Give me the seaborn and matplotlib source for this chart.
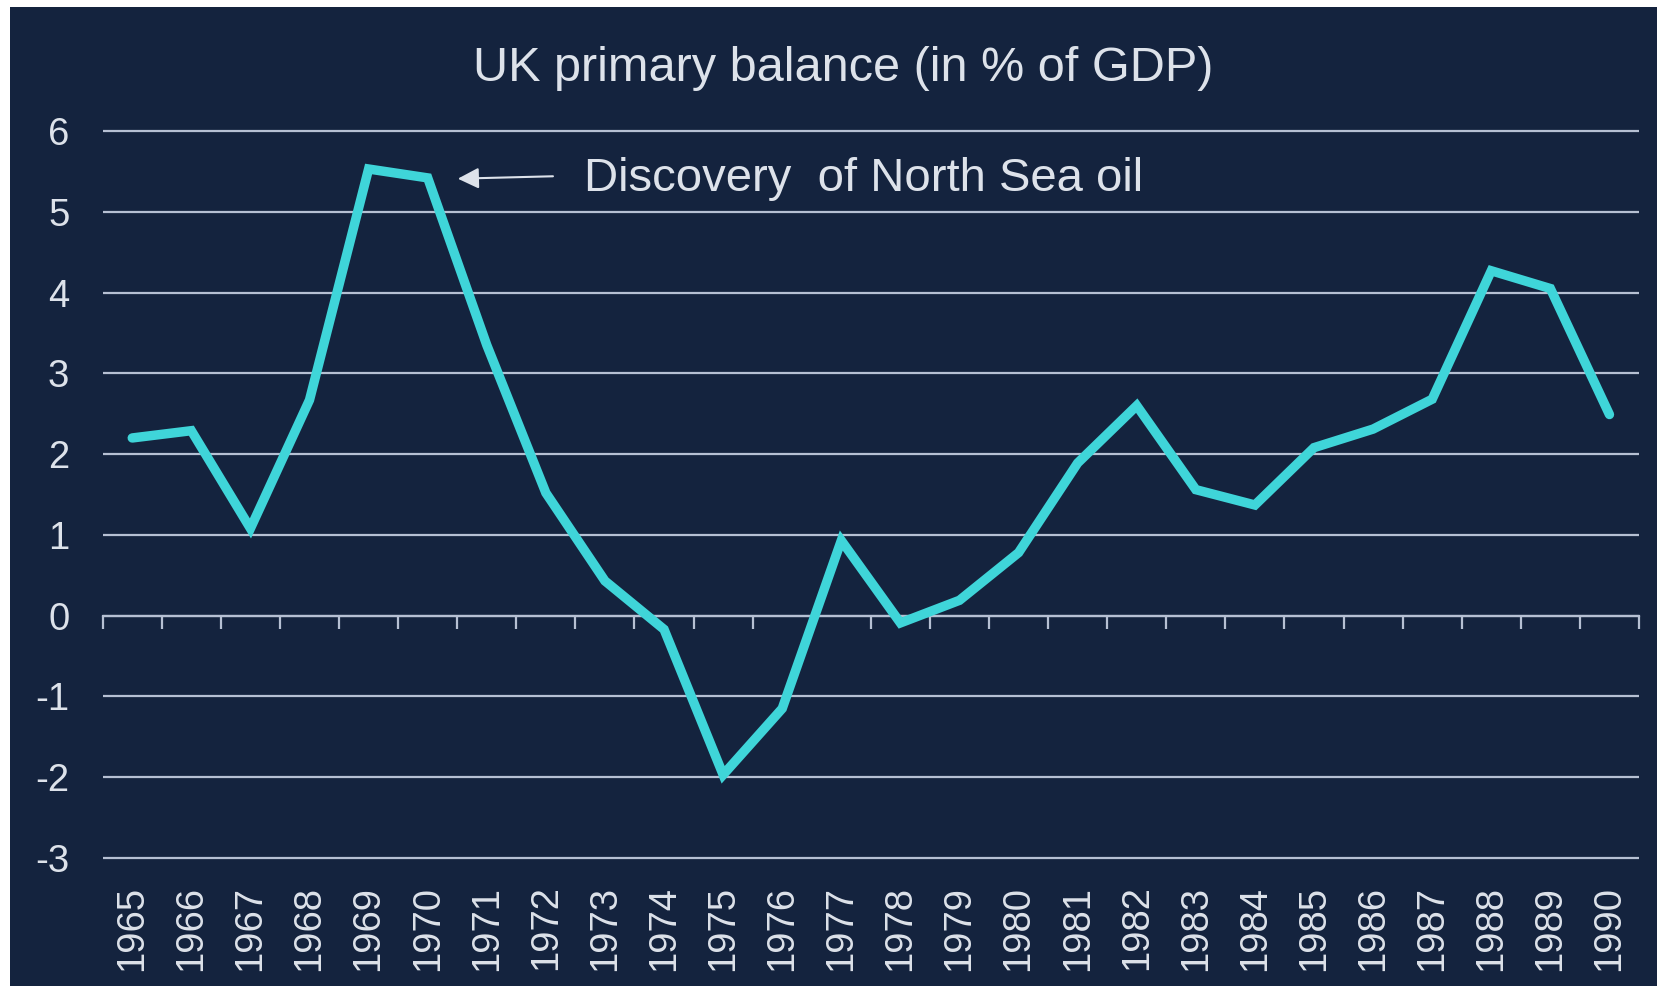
import numpy as np
import pandas as pd
import matplotlib
matplotlib.use("Agg")
import matplotlib.pyplot as plt
from matplotlib.patches import Rectangle
import seaborn as sns

# Data
years = ["1965", "1966", "1967", "1968", "1969", "1970", "1971", "1972", "1973",
         "1974", "1975", "1976", "1977", "1978", "1979", "1980", "1981", "1982",
         "1983", "1984", "1985", "1986", "1987", "1988", "1989", "1990"]
balance = [2.20, 2.29, 1.08, 2.67, 5.53, 5.42, 3.35, 1.52, 0.43, -0.17, -1.97,
           -1.15, 0.93, -0.09, 0.19, 0.78, 1.89, 2.60, 1.56, 1.37, 2.08, 2.31,
           2.68, 4.27, 4.05, 2.49]
y_ticks = [-3, -2, -1, 0, 1, 2, 3, 4, 5, 6]
title = "UK primary balance (in % of GDP)"
note = "Discovery  of North Sea oil"

# Colours
BG = "#14233e"
LINE = "#3fd5d9"
GRID = "#b6c0d3"
TEXT = "#dde2ea"

sns.set_style("dark")
plt.rcParams["font.family"] = ["Liberation Sans", "DejaVu Sans"]

W, H = 1657, 986
fig = plt.figure(figsize=(W / 100, H / 100), dpi=100, facecolor="white")
fig.patches.append(Rectangle((10 / W, 0), 1 - 10 / W, 1 - 7 / H,
                             transform=fig.transFigure, facecolor=BG,
                             edgecolor="none", zorder=-10))

ymin, ymax = -3.05, 6.05
ax = fig.add_axes([102.7 / W, 1 - 862 / H, (1639 - 102.7) / W, (862 - 127) / H])
ax.set_facecolor(BG)
ax.patch.set_alpha(0)

df = pd.DataFrame({"pos": np.arange(len(years)), "balance": balance})
sns.lineplot(data=df, x="pos", y="balance", ax=ax, color=LINE, linewidth=6.8,
             solid_joinstyle="miter", solid_capstyle="round", zorder=5)

ax.set_xlim(-0.5, len(years) - 0.5)
ax.set_ylim(ymin, ymax)
ax.set_xlabel("")
ax.set_ylabel("")

for s in ax.spines.values():
    s.set_visible(False)

# Horizontal gridlines
ax.set_yticks(y_ticks)
ax.set_yticklabels([str(v) for v in y_ticks])
ax.yaxis.grid(True, color=GRID, linewidth=1.6)
ax.xaxis.grid(False)
ax.tick_params(axis="y", length=0, pad=24, labelsize=27.5, labelcolor=TEXT)

# Year labels along the bottom
ax.set_xticks(np.arange(len(years)))
ax.set_xticklabels(years, rotation=90)
ax.tick_params(axis="x", length=0, pad=17, labelsize=27.5, labelcolor=TEXT)

# Zero axis with category-boundary tick marks
zero_frac = (0 - ymin) / (ymax - ymin)
sec = ax.secondary_xaxis(zero_frac)
sec.set_xticks(np.arange(len(years) + 1) - 0.5)
sec.tick_params(axis="x", length=9.5, width=1.6, color=GRID, direction="out",
                labelbottom=False, labeltop=False)
sec.spines["bottom"].set_color(GRID)
sec.spines["bottom"].set_linewidth(1.6)

# Annotation
ax.annotate("", xy=(5.51, 5.41), xytext=(7.12, 5.44),
            arrowprops=dict(arrowstyle="-|>", color=TEXT, lw=1.5,
                            mutation_scale=32, shrinkA=0, shrinkB=0),
            zorder=6)
ax.text(7.64, 5.26, note, color=TEXT, fontsize=34, va="baseline", ha="left")

fig.text(843 / W, 1 - 81 / H, title, color=TEXT, fontsize=35,
         ha="center", va="baseline")

fig.savefig("out.png", dpi=100, facecolor=fig.get_facecolor())
